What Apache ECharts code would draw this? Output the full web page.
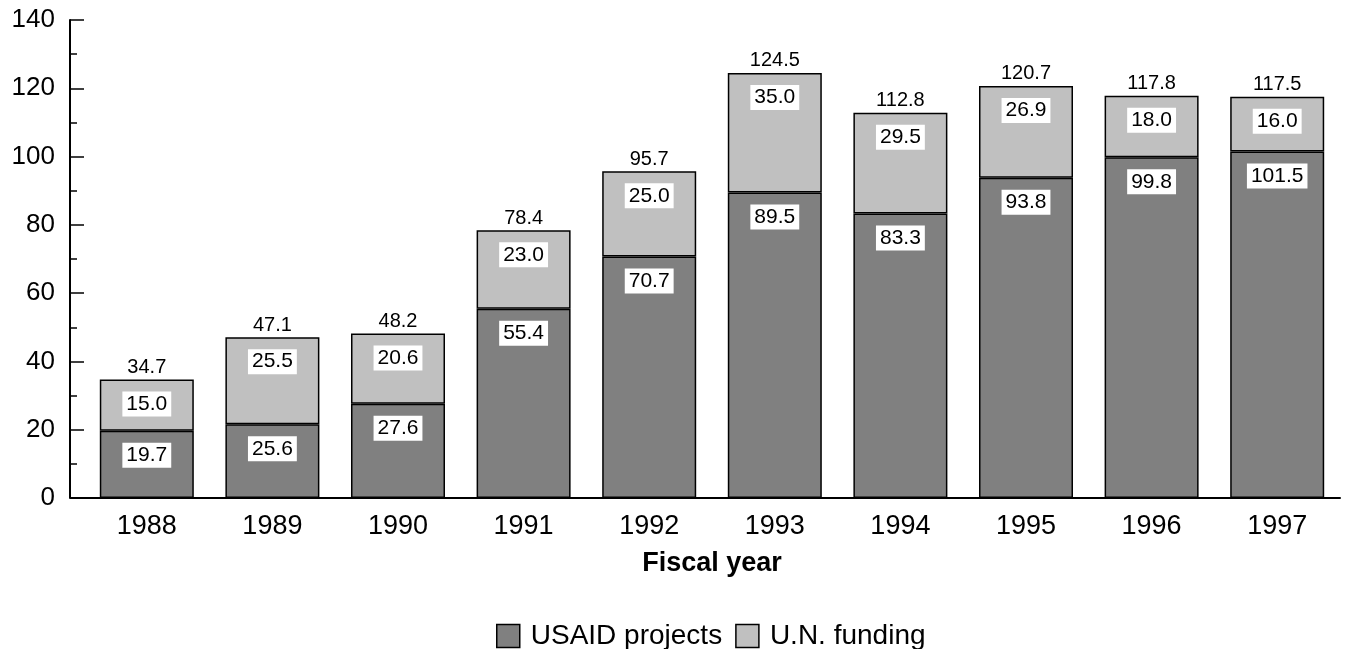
<!DOCTYPE html>
<html>
<head>
<meta charset="utf-8">
<script src="https://cdn.jsdelivr.net/npm/echarts@6/dist/echarts.min.js"></script>
<style>
  html, body { margin: 0; padding: 0; background: #fff; }
  #chart { width: 1345px; height: 649px; }
</style>
</head>
<body>
<div id="chart"></div>
<script>
  // fiscal years
  var years = ['1988', '1989', '1990', '1991', '1992', '1993', '1994', '1995', '1996', '1997'];
  // USAID segment as drawn (1989 drawn at total minus U.N.)
  var usaidValues = [19.7, 21.6, 27.6, 55.4, 70.7, 89.5, 83.3, 93.8, 99.8, 101.5];
  // USAID labels as printed
  var usaidLabels = ['19.7', '25.6', '27.6', '55.4', '70.7', '89.5', '83.3', '93.8', '99.8', '101.5'];
  var unValues = [15.0, 25.5, 20.6, 23.0, 25.0, 35.0, 29.5, 26.9, 18.0, 16.0];
  var totals = ['34.7', '47.1', '48.2', '78.4', '95.7', '124.5', '112.8', '120.7', '117.8', '117.5'];
  var zeros = years.map(function () { return 0; });

  var font = '"Liberation Sans", Arial, sans-serif';

  var innerLabel = {
    show: true,
    position: 'insideTop',
    distance: 12,
    fontFamily: font,
    fontSize: 21,
    lineHeight: 21,
    color: '#000',
    backgroundColor: '#fff',
    padding: [2, 4]
  };

  var myChart = echarts.init(document.getElementById('chart'));
  myChart.setOption({
    animation: false,
    textStyle: { fontFamily: font },
    grid: {
      left: 84,
      right: 5,
      top: 20,
      bottom: 151
    },
    legend: {
      data: ['USAID projects', 'U.N. funding'],
      top: 617,
      left: 491,
      icon: 'rect',
      itemWidth: 23,
      itemHeight: 23,
      itemGap: 13,
      textStyle: { fontFamily: font, fontSize: 28, color: '#000', padding: [0, 0, 0, 6] },
      itemStyle: { borderColor: '#000', borderWidth: 1.5 }
    },
    xAxis: {
      type: 'category',
      data: years,
      name: 'Fiscal year',
      nameLocation: 'middle',
      nameGap: 52,
      nameTextStyle: { fontFamily: font, fontSize: 27, fontWeight: 'bold', color: '#000' },
      axisLine: { lineStyle: { color: '#000', width: 2 } },
      axisTick: { show: false },
      axisLabel: { fontFamily: font, fontSize: 27, color: '#000', margin: 15 }
    },
    yAxis: {
      type: 'value',
      min: 0,
      max: 140,
      interval: 20,
      offset: 14,
      axisLine: { show: true, lineStyle: { color: '#000', width: 2 } },
      axisTick: { show: true, inside: true, length: 14, lineStyle: { color: '#000', width: 1.5 } },
      minorTick: { show: true, splitNumber: 2, length: 7, lineStyle: { color: '#000', width: 1.5 } },
      splitLine: { show: false },
      axisLabel: { fontFamily: font, fontSize: 26, color: '#000', margin: 15 }
    },
    graphic: [{
      type: 'line',
      shape: { x1: 70, y1: 498, x2: 85, y2: 498 },
      style: { stroke: '#000', lineWidth: 2 }
    }],
    series: [
      {
        name: 'USAID projects',
        type: 'bar',
        stack: 'total',
        barWidth: 94,
        itemStyle: { color: '#808080', borderColor: '#000', borderWidth: 1.5 },
        label: Object.assign({}, innerLabel, {
          formatter: function (p) { return usaidLabels[p.dataIndex]; }
        }),
        data: usaidValues
      },
      {
        name: 'U.N. funding',
        type: 'bar',
        stack: 'total',
        barWidth: 94,
        itemStyle: { color: '#c0c0c0', borderColor: '#000', borderWidth: 1.5 },
        label: Object.assign({}, innerLabel, {
          formatter: function (p) { return p.value.toFixed(1); }
        }),
        data: unValues
      },
      {
        name: 'Total',
        type: 'bar',
        stack: 'total',
        barWidth: 94,
        itemStyle: { color: 'transparent', borderWidth: 0 },
        label: {
          show: true,
          position: 'top',
          distance: 2,
          fontFamily: font,
          fontSize: 20,
          color: '#000',
          formatter: function (p) { return totals[p.dataIndex]; }
        },
        data: zeros
      }
    ]
  });
</script>
</body>
</html>
